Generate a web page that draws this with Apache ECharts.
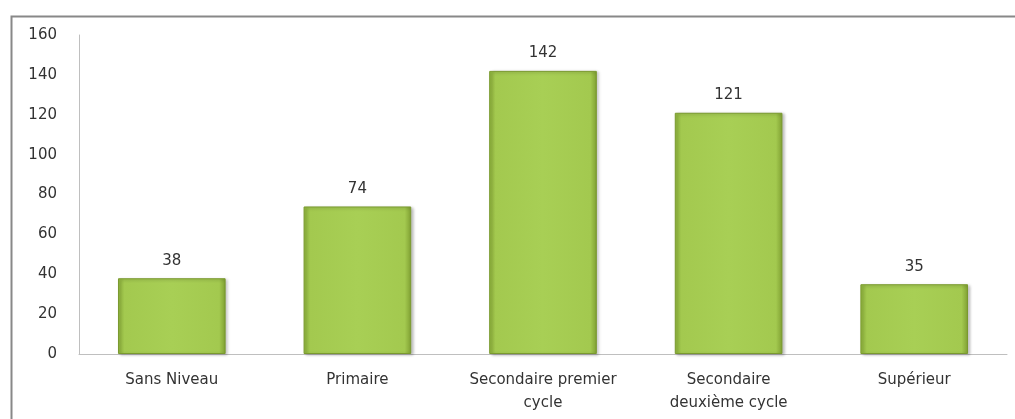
<!DOCTYPE html>
<html>
<head>
<meta charset="utf-8">
<script src="https://cdn.jsdelivr.net/npm/echarts@6/dist/echarts.min.js"></script>
<style>
  html, body { margin: 0; padding: 0; background: #fff; }
  #chart { width: 1015px; height: 419px; }
</style>
</head>
<body>
<div id="chart"></div>
<script>
  // catégories et valeurs
  var categories = ['Sans Niveau', 'Primaire', 'Secondaire premier\ncycle', 'Secondaire\ndeuxième cycle', 'Supérieur']
  var values = [38, 74, 142, 121, 35]
  var yTicks = [0, 20, 40, 60, 80, 100, 120, 140, 160]

  var chart = echarts.init(document.getElementById('chart'))

  // dégradé horizontal pour imiter le biseau des barres
  var barColor = new echarts.graphic.LinearGradient(0, 0, 1, 0, [
    { offset: 0, color: '#8fb43c' },
    { offset: 0.06, color: '#a3c94f' },
    { offset: 0.5, color: '#a8cf55' },
    { offset: 0.94, color: '#a3c94f' },
    { offset: 1, color: '#7f9f32' }
  ])

  chart.setOption({
    animation: false,
    textStyle: { fontFamily: 'DejaVu Sans' },
    graphic: [{
      type: 'rect',
      left: 9, top: 14,
      shape: { width: 1020, height: 420 },
      style: { fill: 'none', stroke: '#888', lineWidth: 2 },
      silent: true
    }],
    grid: { left: 79, right: 8, top: 35, bottom: 65 },
    xAxis: {
      type: 'category',
      data: categories,
      axisLine: { lineStyle: { color: '#bfbfbf', width: 1 } },
      axisTick: { show: false },
      axisLabel: {
        color: '#333',
        fontSize: 15,
        lineHeight: 23,
        margin: 15,
        interval: 0
      }
    },
    yAxis: {
      type: 'value',
      min: yTicks[0],
      max: yTicks[yTicks.length - 1],
      interval: 20,
      axisLine: { show: true, lineStyle: { color: '#bfbfbf', width: 1 } },
      axisTick: { show: false },
      splitLine: { show: false },
      axisLabel: { color: '#333', fontSize: 15, margin: 22 }
    },
    series: [{
      type: 'bar',
      data: values,
      barWidth: '58%',
      itemStyle: {
        color: barColor,
        borderColor: '#7a9a2e',
        borderWidth: 1,
        shadowColor: 'rgba(0,0,0,0.25)',
        shadowBlur: 3,
        shadowOffsetX: 2,
        shadowOffsetY: 1
      },
      label: {
        show: true,
        position: 'top',
        distance: 10,
        color: '#333',
        fontSize: 15
      }
    }]
  })
</script>
</body>
</html>
